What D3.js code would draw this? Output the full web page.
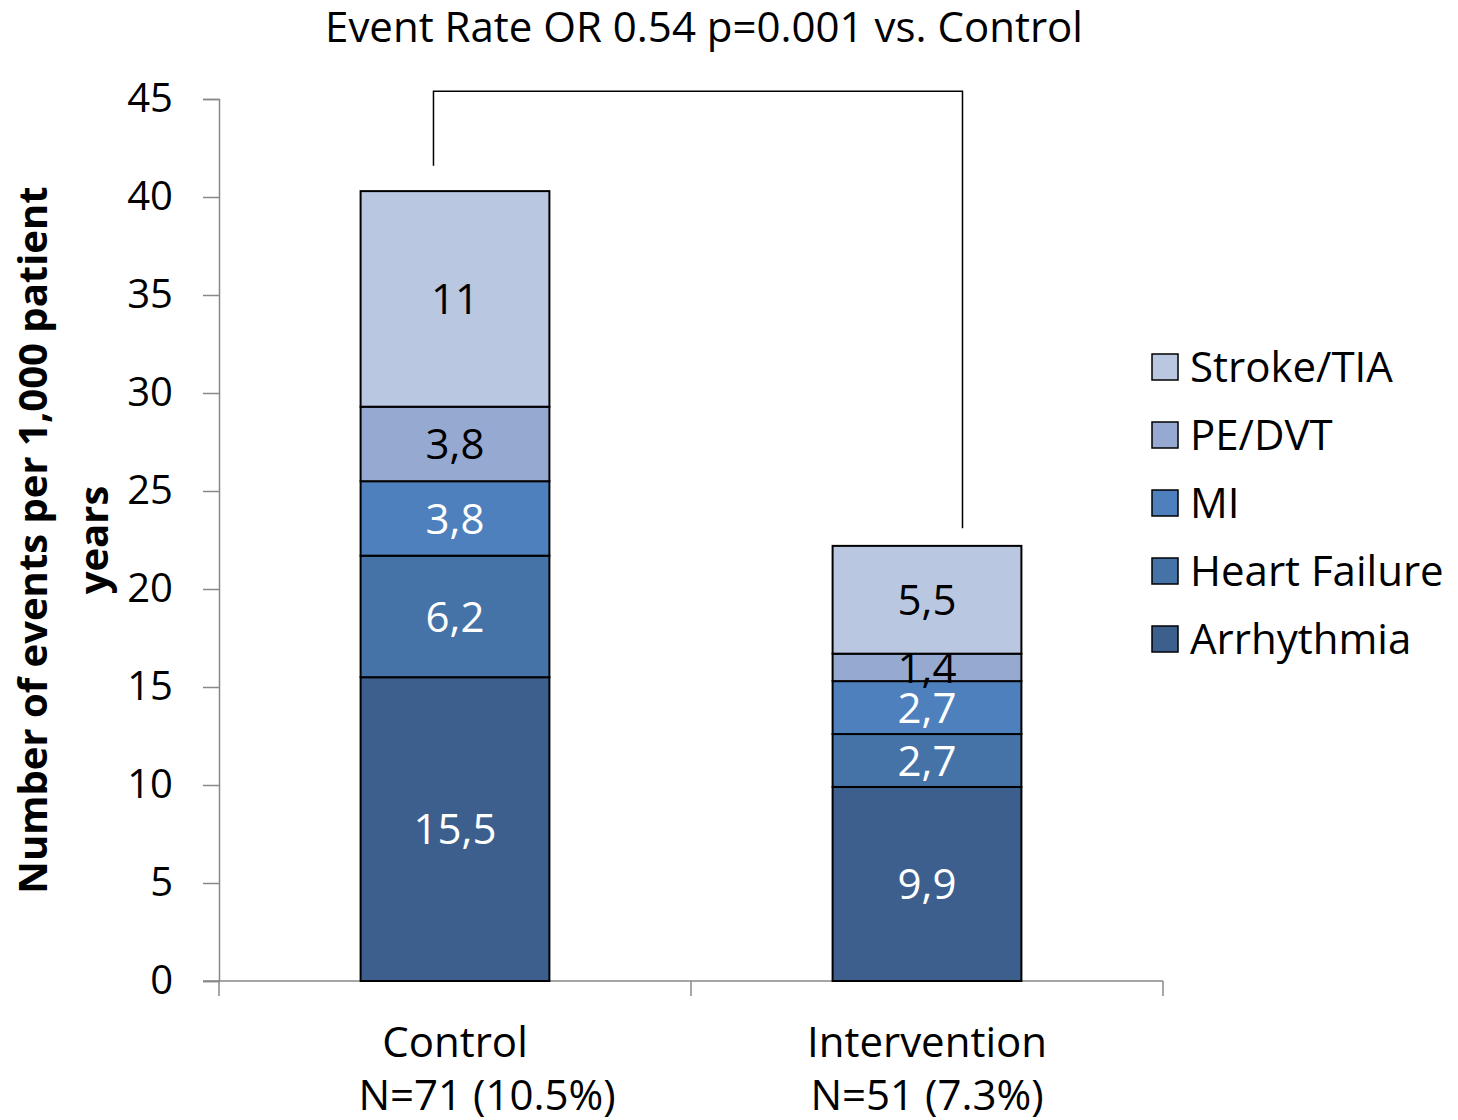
<!DOCTYPE html>
<html>
<head>
<meta charset="utf-8">
<script src="https://cdn.jsdelivr.net/npm/d3@7"></script>
<style>
  html, body { margin: 0; padding: 0; background: #fff; }
  svg { display: block; font-family: "Open Sans", "Noto Sans", sans-serif; }
</style>
</head>
<body>
<svg id="chart" width="1458" height="1120"></svg>
<script>
// Event rates per 1,000 patient years, stacked bottom to top
const groups = ["Control", "Intervention"];
const groupNotes = ["N=71 (10.5%)", "N=51 (7.3%)"];
const seriesNames = ["Arrhythmia", "Heart Failure", "MI", "PE/DVT", "Stroke/TIA"];
const arrhythmia = [15.5, 9.9];
const heartFailure = [6.2, 2.7];
const mi = [3.8, 2.7];
const peDvt = [3.8, 1.4];
const strokeTia = [11, 5.5];
const yTicks = [0, 5, 10, 15, 20, 25, 30, 35, 40, 45];
const titleText = "Event Rate OR 0.54 p=0.001 vs. Control";
const yTitleLines = ["Number of events per 1,000 patient", "years"];

const seriesValues = [arrhythmia, heartFailure, mi, peDvt, strokeTia];
const colors = ["#3c5f8e", "#4673a7", "#4d80bc", "#95a9d1", "#bac7e0"];
const labelColors = ["#fff", "#fff", "#fff", "#000", "#000"];
// horizontal nudge of the second category line (the first one is indented)
const noteShift = [32, 0];

const rows = groups.map((g, i) => {
  const r = { group: g };
  seriesNames.forEach((s, j) => r[s] = seriesValues[j][i]);
  return r;
});

const svg = d3.select("#chart");
const margin = { left: 219, right: 295, top: 99, bottom: 139 };
const W = 1458, H = 1120;

const x = d3.scaleBand().domain(groups)
  .range([margin.left, W - margin.right])
  .paddingInner(0.6).paddingOuter(0.3);
const y = d3.scaleLinear().domain([0, 45]).range([H - margin.bottom, margin.top]);

const stack = d3.stack().keys(seriesNames);
const layers = stack(rows);

// Y axis
const yAxis = svg.append("g")
  .attr("transform", `translate(${margin.left},0)`)
  .call(d3.axisLeft(y).tickValues(yTicks).tickSize(16).tickPadding(30));
yAxis.select(".domain").attr("stroke", "#888").attr("stroke-width", 1.5);
yAxis.selectAll(".tick line").attr("stroke", "#888").attr("stroke-width", 1.5);
yAxis.selectAll(".tick text").attr("font-size", 40).attr("fill", "#000")
  .attr("font-family", "Open Sans");

// X axis with boundary ticks between categories
const xBase = y(0);
const bounds = [margin.left, (x("Control") + x.bandwidth() + x("Intervention")) / 2, W - margin.right];
svg.append("line")
  .attr("x1", margin.left - 16).attr("x2", W - margin.right)
  .attr("y1", xBase).attr("y2", xBase)
  .attr("stroke", "#888").attr("stroke-width", 1.5);
svg.selectAll(".xtick").data(bounds).join("line")
  .attr("x1", d => d).attr("x2", d => d)
  .attr("y1", xBase).attr("y2", xBase + 15)
  .attr("stroke", "#888").attr("stroke-width", 1.5);

// Stacked bars
const layerG = svg.selectAll(".layer").data(layers).join("g")
  .attr("fill", (d, i) => colors[i]);
layerG.selectAll("rect").data(d => d).join("rect")
  .attr("x", d => x(d.data.group))
  .attr("width", x.bandwidth())
  .attr("y", d => y(d[1]))
  .attr("height", d => y(d[0]) - y(d[1]))
  .attr("stroke", "#000").attr("stroke-width", 2);

// Segment value labels (decimal comma)
const fmt = v => String(v).replace(".", ",");
layers.forEach((layer, i) => {
  svg.append("g").selectAll("text").data(layer).join("text")
    .attr("x", d => x(d.data.group) + x.bandwidth() / 2)
    .attr("y", d => (y(d[0]) + y(d[1])) / 2)
    .attr("dy", "0.36em")
    .attr("text-anchor", "middle")
    .attr("font-size", 42)
    .attr("fill", labelColors[i])
    .text(d => fmt(d.data[layer.key]));
});

// Category labels
groups.forEach((g, i) => {
  const cx = x(g) + x.bandwidth() / 2;
  svg.append("text").attr("x", cx).attr("y", 1057).attr("text-anchor", "middle")
    .attr("font-size", 42).attr("fill", "#000").text(g);
  svg.append("text").attr("x", cx + noteShift[i]).attr("y", 1110).attr("text-anchor", "middle")
    .attr("font-size", 42).attr("fill", "#000").text(groupNotes[i]);
});

// Significance bracket
const cTop = d3.sum(seriesValues, s => s[0]);
const iTop = d3.sum(seriesValues, s => s[1]);
const bx1 = x("Control") + x.bandwidth() * 0.386;
const bx2 = x("Intervention") + x.bandwidth() * 0.688;
const bracketY = y(45.4);
svg.append("path")
  .attr("d", `M${bx1},${y(cTop + 1.3)}V${bracketY}H${bx2}V${y(iTop + 0.9)}`)
  .attr("fill", "none").attr("stroke", "#000").attr("stroke-width", 1.5);

// Title
svg.append("text").attr("x", 704).attr("y", 42).attr("text-anchor", "middle")
  .attr("font-size", 42).attr("fill", "#000").text(titleText);

// Y axis title
const yt = svg.append("text")
  .attr("transform", `translate(0,${(y(0) + y(45)) / 2}) rotate(-90)`)
  .attr("text-anchor", "middle").attr("font-size", 40).attr("font-weight", "bold")
  .attr("fill", "#000");
yt.append("tspan").attr("x", 0).attr("y", 47).text(yTitleLines[0]);
yt.append("tspan").attr("x", 0).attr("y", 108).text(yTitleLines[1]);

// Legend (top series first)
const legendOrder = seriesNames.map((s, i) => i).reverse();
const lg = svg.append("g").attr("transform", "translate(1152,367)");
legendOrder.forEach((si, k) => {
  const row = lg.append("g").attr("transform", `translate(0,${k * 68})`);
  row.append("rect").attr("x", 0).attr("y", -13).attr("width", 26).attr("height", 26)
    .attr("fill", colors[si]).attr("stroke", "#000").attr("stroke-width", 1.5);
  row.append("text").attr("x", 38).attr("y", 0).attr("dy", "0.36em")
    .attr("font-size", 42).attr("fill", "#000").text(seriesNames[si]);
});
</script>
</body>
</html>
